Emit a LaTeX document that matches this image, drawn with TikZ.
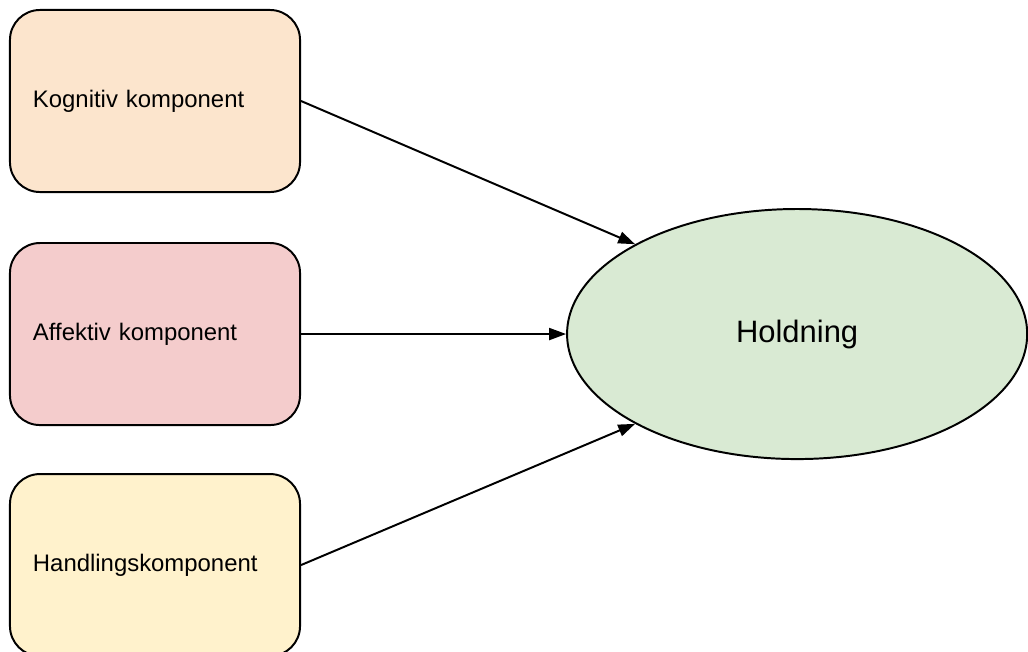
\documentclass[tikz,border=0pt]{standalone}
\usepackage{fontspec}
\setmainfont{Liberation Sans}
\usetikzlibrary{positioning,shapes.geometric,arrows.meta}

\definecolor{kogfill}{HTML}{FCE5CD}
\definecolor{afffill}{HTML}{F4CCCC}
\definecolor{hanfill}{HTML}{FFF2CC}
\definecolor{holdfill}{HTML}{D9EAD3}

\begin{document}
\begin{tikzpicture}[
x=0.025cm, y=-0.025cm,
kompbox/.style={
  draw,
  line width=1.4pt,
  rounded corners=0.75cm,
  text width=6.1cm,
  inner xsep=0.575cm,
  minimum height=4.55cm,
  align=left,
  font=\fontsize{17}{20}\selectfont},
pil/.style={
  line width=1.4pt,
  -{Triangle[length=12pt,width=8.5pt]}}
]
\useasboundingbox (0,0) rectangle (1028,652);
\node[kompbox, fill=kogfill] (kog) at (155,101) {Kognitiv komponent};
\node[kompbox, fill=afffill, below=1.225cm of kog] (aff) {Affektiv komponent};
\node[kompbox, fill=hanfill, below=1.175cm of aff] (han) {Handlingskomponent};
\node[draw, ellipse, line width=1.4pt, fill=holdfill,
  minimum width=11.5cm, minimum height=6.25cm, inner sep=0pt,
  font=\fontsize{22}{26}\selectfont,
  right=6.625cm of aff] (hold) {Holdning};
\draw[pil] (kog.east) -- (hold.151);
\draw[pil] (aff.east) -- (hold.west);
\draw[pil] (han.east) -- (hold.209);
\end{tikzpicture}
\end{document}
